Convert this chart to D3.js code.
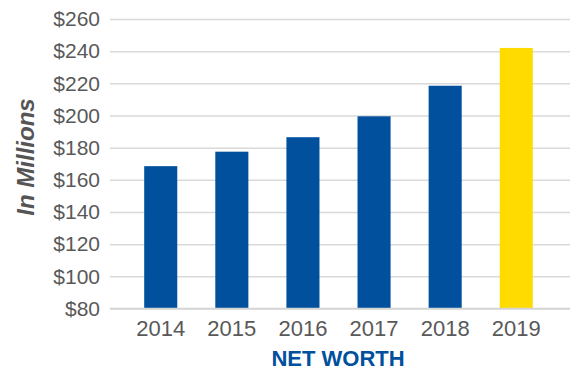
<!DOCTYPE html>
<html>
<head>
<meta charset="utf-8">
<script src="https://cdn.jsdelivr.net/npm/d3@7"></script>
<style>
  body { margin: 0; background: #fff; }
  svg { display: block; font-family: "Liberation Sans", Arial, Helvetica, sans-serif; }
</style>
</head>
<body>
<script>
// chart values
var years = ["2014", "2015", "2016", "2017", "2018", "2019"];
var netWorth = [168.5, 177.5, 186.5, 199.5, 218.5, 242];
var yTicks = [80, 100, 120, 140, 160, 180, 200, 220, 240, 260];
var highlightYear = "2019";

var width = 570, height = 371;

var svg = d3.select("body")
  .append("svg")
    .attr("width", width)
    .attr("height", height);

// scales
var x = d3.scaleBand()
  .domain(years)
  .range([125, 552])
  .paddingInner(0.535)
  .paddingOuter(0.27);

var y = d3.scaleLinear()
  .domain([80, 260])
  .range([308.5, 19]);

// gridlines
svg.append("g")
  .attr("transform", "translate(110,0)")
  .call(d3.axisLeft(y).tickValues(yTicks).tickSize(-460).tickFormat(""))
  .call(function(g) { g.select(".domain").remove(); })
  .selectAll("line")
    .attr("stroke", "#d9d9d9")
    .attr("stroke-width", 1.5);

// y tick labels
svg.append("g")
  .attr("transform", "translate(110,0)")
  .call(d3.axisLeft(y).tickValues(yTicks).tickSize(0).tickPadding(10)
    .tickFormat(function(d) { return "$" + d; }))
  .call(function(g) { g.select(".domain").remove(); })
  .selectAll("text")
    .style("font-size", "21px")
    .attr("fill", "#595959");

// bars
svg.selectAll(".bar")
  .data(years)
  .enter()
  .append("rect")
    .attr("class", "bar")
    .attr("x", function(d) { return x(d); })
    .attr("y", function(d, i) { return y(netWorth[i]); })
    .attr("width", x.bandwidth())
    .attr("height", function(d, i) { return y(80) - y(netWorth[i]); })
    .attr("fill", function(d) { return d === highlightYear ? "#ffdb00" : "#00509e"; });

// x axis
svg.append("g")
  .attr("transform", "translate(0," + y(80) + ")")
  .call(d3.axisBottom(x).tickSize(0).tickPadding(12))
  .call(function(g) {
    g.select(".domain").attr("d", "M110,0H570").attr("stroke", "#d4d4d4").attr("stroke-width", 1.5);
  })
  .selectAll("text")
    .style("font-size", "22px")
    .attr("fill", "#595959");

// axis titles
svg.append("text")
  .attr("x", 338)
  .attr("y", 366)
  .attr("text-anchor", "middle")
  .style("font-size", "22px")
  .style("font-weight", "bold")
  .attr("fill", "#00509e")
  .text("NET WORTH");

svg.append("text")
  .attr("transform", "translate(34,157)rotate(-90)")
  .attr("text-anchor", "middle")
  .style("font-size", "24px")
  .style("font-weight", "bold")
  .style("font-style", "italic")
  .attr("fill", "#555")
  .text("In Millions");
</script>
</body>
</html>
